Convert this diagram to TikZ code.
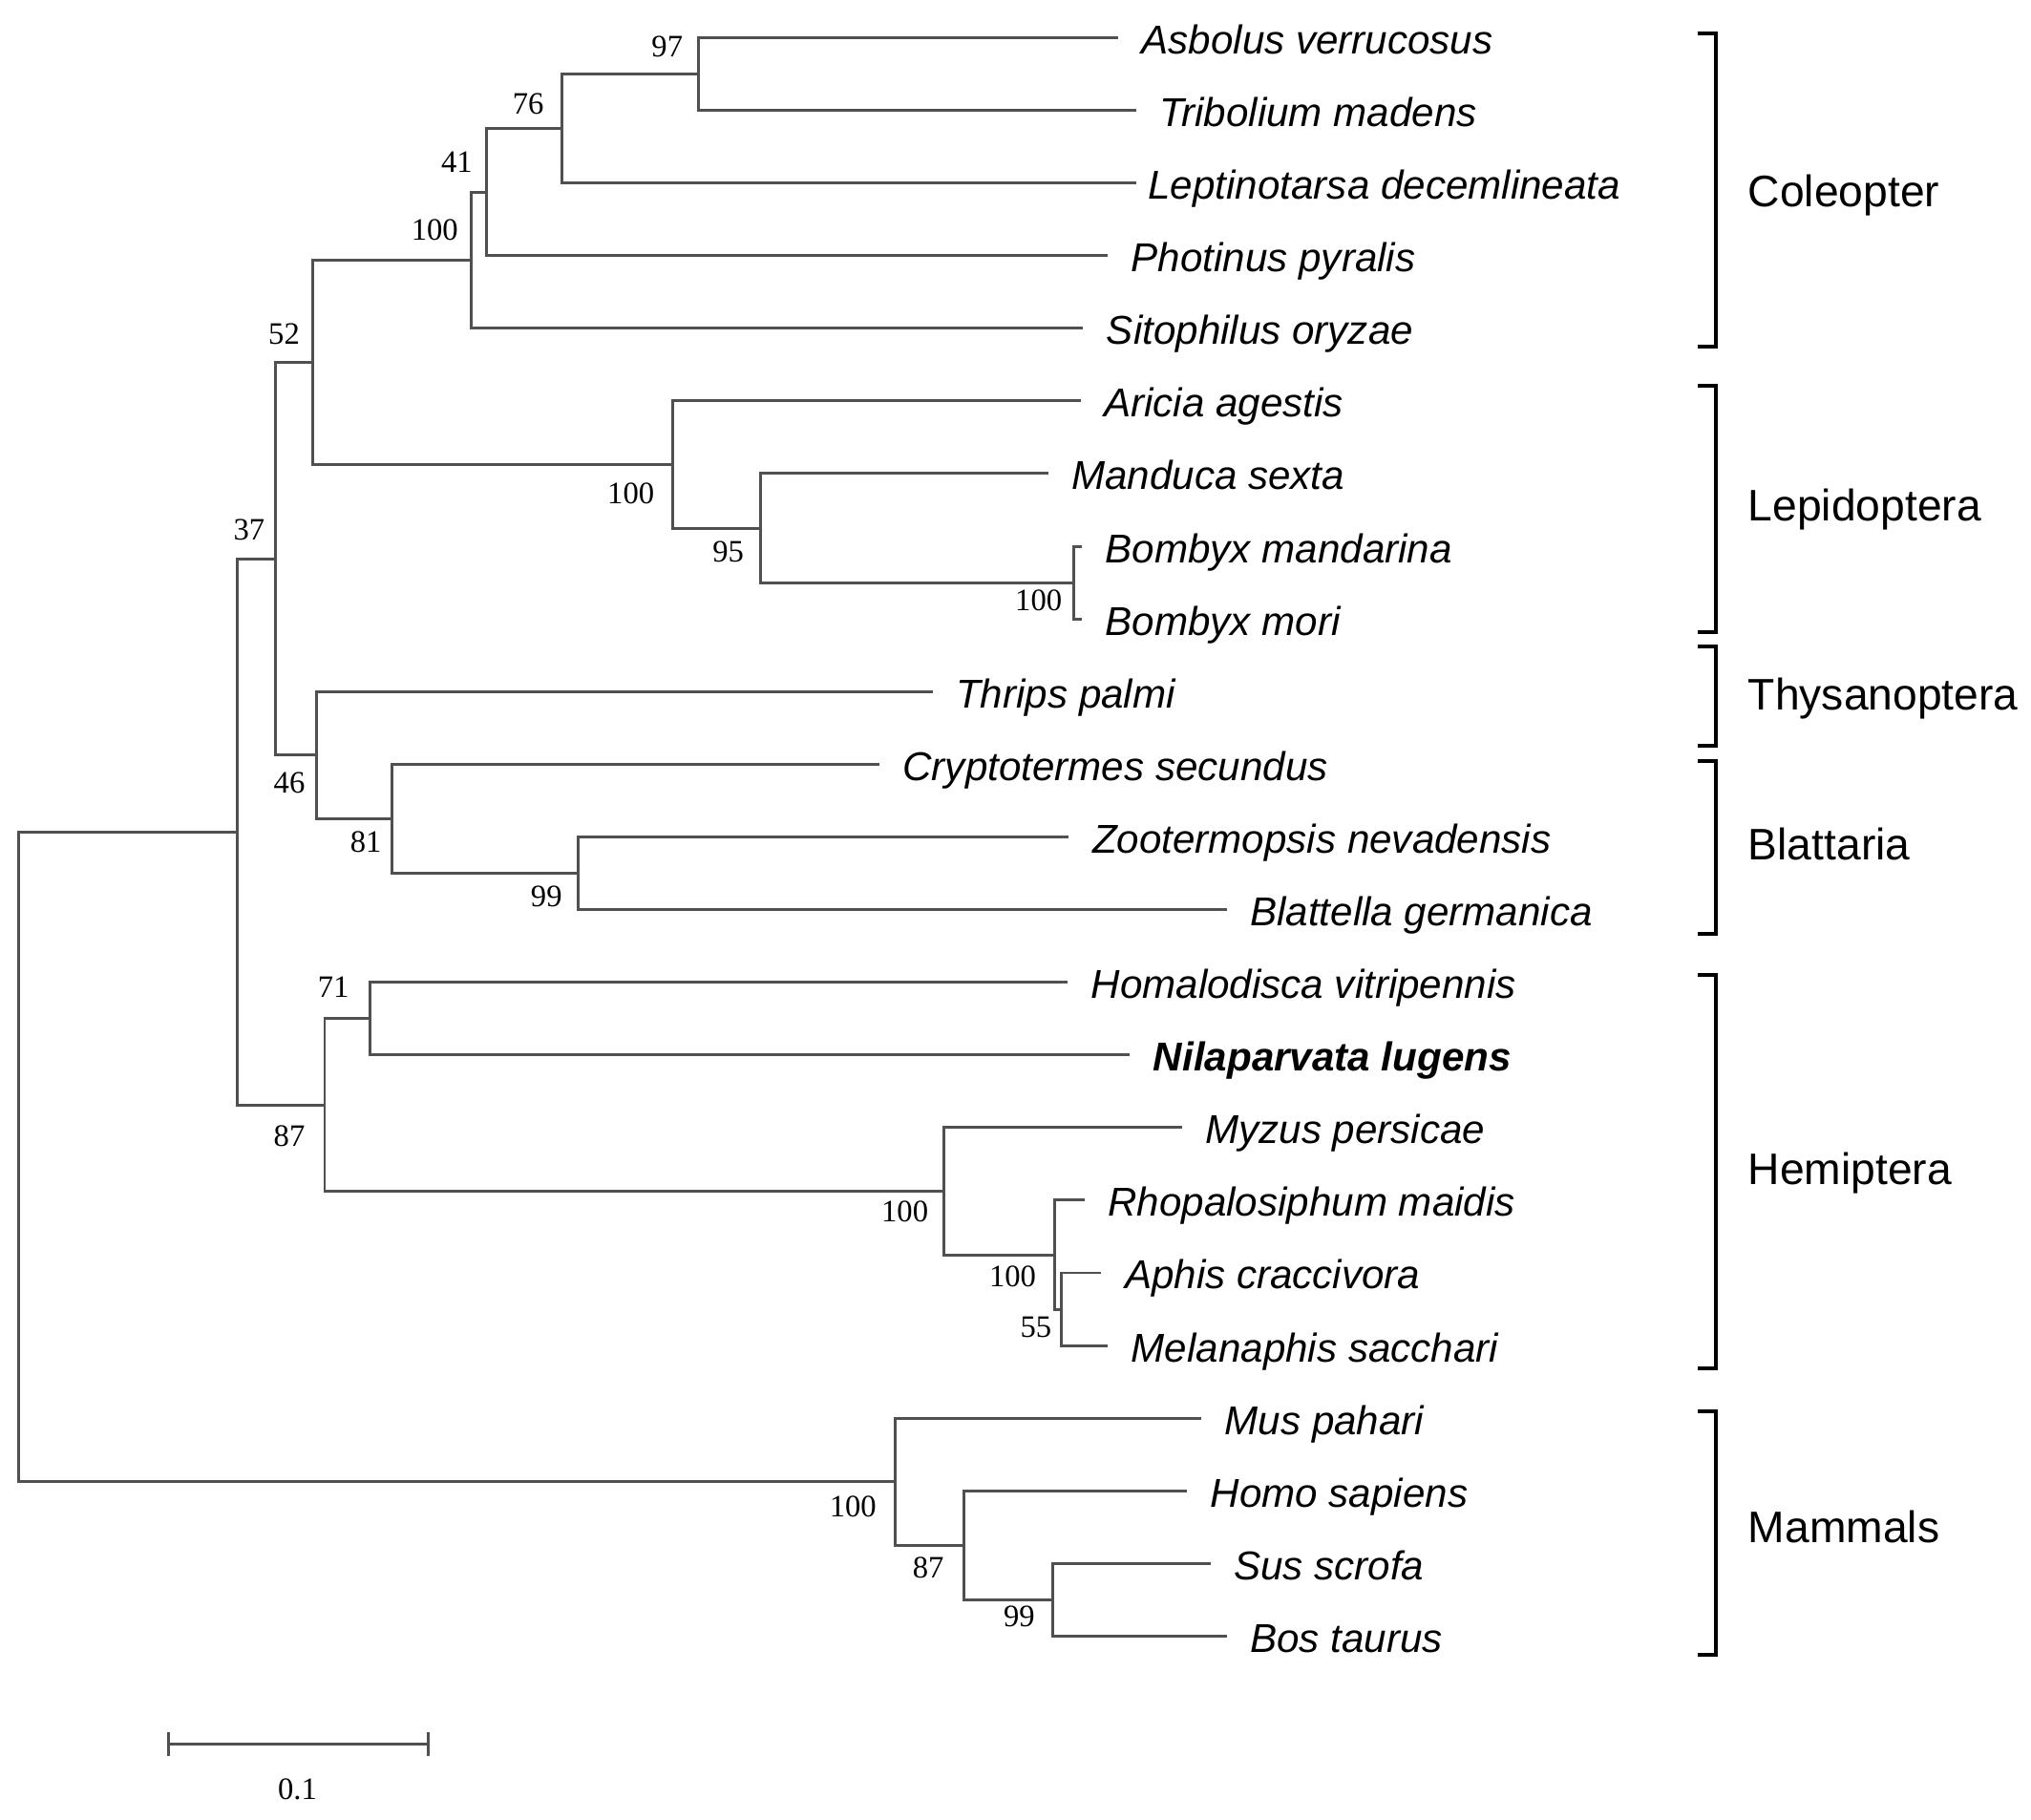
\documentclass[tikz,border=0pt]{standalone}
\usepackage{fontspec}
\setmainfont{Liberation Serif}
\newfontfamily\arialfont{Liberation Sans}
\definecolor{treegray}{RGB}{80,80,80}
\begin{document}
\begin{tikzpicture}[x=1pt,y=-1pt,
  br/.style={line width=2.2pt, draw=treegray, line cap=rect},
  leaf/.style={anchor=base west, inner sep=0pt, font=\arialfont\itshape\fontsize{31}{36}\selectfont},
  bs/.style={anchor=east, inner sep=0pt, font=\fontsize{24}{28}\selectfont},
  grp/.style={anchor=base west, inner sep=0pt, font=\arialfont\fontsize{34}{40}\selectfont},
  brk/.style={line width=3pt, draw=black},
  sb/.style={line width=2.2pt, draw=treegray}]
\useasboundingbox (0,0) rectangle (1564,1400.8);
% internal nodes
\coordinate (root) at (14,890.8);
\coordinate (nIns) at (183,640.5);
\coordinate (nMam) at (689,1141);
\coordinate (n37) at (212,430.3);
\coordinate (nHem) at (250,850.8);
\coordinate (n52) at (241,279);
\coordinate (n46) at (244,581.5);
\coordinate (nCol) at (363,200.35);
\coordinate (nLep) at (518,357.7);
\coordinate (n41) at (375,147.9);
\coordinate (n76) at (433,98.94);
\coordinate (n97) at (538,56.98);
\coordinate (n95) at (586,406.7);
\coordinate (nBom) at (827,448.6);
\coordinate (n81) at (302,630.5);
\coordinate (n99b) at (445,672.4);
\coordinate (n71) at (285,784.3);
\coordinate (nMyz) at (727,917.2);
\coordinate (nAph) at (812,966.2);
\coordinate (n55) at (817,1008.1);
\coordinate (n87m) at (742,1190);
\coordinate (n99m) at (811,1231.9);
% leaves
\coordinate (L1) at (860,29.0);
\coordinate (L2) at (874,84.95);
\coordinate (L3) at (874,140.9);
\coordinate (L4) at (852,196.85);
\coordinate (L5) at (833,252.8);
\coordinate (L6) at (831,308.75);
\coordinate (L7) at (806,364.7);
\coordinate (L8) at (832,420.65);
\coordinate (L9) at (832,476.6);
\coordinate (L10) at (717,532.55);
\coordinate (L11) at (676,588.5);
\coordinate (L12) at (822,644.45);
\coordinate (L13) at (943.5,700.4);
\coordinate (L14) at (821,756.35);
\coordinate (L15) at (869,812.3);
\coordinate (L16) at (909,868.25);
\coordinate (L17) at (834,924.2);
\coordinate (L18) at (847,980.15);
\coordinate (L19) at (852,1036.1);
\coordinate (L20) at (924,1092.05);
\coordinate (L21) at (913,1148.0);
\coordinate (L22) at (931,1203.95);
\coordinate (L23) at (943.5,1259.9);
% branches
\foreach \p/\c in {root/nIns, root/nMam, nIns/n37, nIns/nHem, n37/n52, n37/n46,
  n52/nCol, n52/nLep, nCol/n41, nCol/L5, n41/n76, n41/L4, n76/n97, n76/L3,
  n97/L1, n97/L2, nLep/L6, nLep/n95, n95/L7, n95/nBom, nBom/L8, nBom/L9,
  n46/L10, n46/n81, n81/L11, n81/n99b, n99b/L12, n99b/L13,
  nHem/n71, nHem/nMyz, n71/L14, n71/L15, nMyz/L16, nMyz/nAph,
  nAph/L17, nAph/n55, n55/L18, n55/L19,
  nMam/L20, nMam/n87m, n87m/L21, n87m/n99m, n99m/L22, n99m/L23}
  \draw[br] (\p) |- (\c);
% leaf labels
\node[leaf] (T1) at ([shift={(19,12.5)}]L1) {Asbolus verrucosus};
\node[leaf] (T2) at ([shift={(19,12.5)}]L2) {Tribolium madens};
\node[leaf] (T3) at ([shift={(10,12.5)}]L3) {Leptinotarsa decemlineata};
\node[leaf] (T4) at ([shift={(19,12.5)}]L4) {Photinus pyralis};
\node[leaf] (T5) at ([shift={(19,12.5)}]L5) {Sitophilus oryzae};
\node[leaf] (T6) at ([shift={(19,12.5)}]L6) {Aricia agestis};
\node[leaf] (T7) at ([shift={(19,12.5)}]L7) {Manduca sexta};
\node[leaf] (T8) at ([shift={(19,12.5)}]L8) {Bombyx mandarina};
\node[leaf] (T9) at ([shift={(19,12.5)}]L9) {Bombyx mori};
\node[leaf] (T10) at ([shift={(19,12.5)}]L10) {Thrips palmi};
\node[leaf] (T11) at ([shift={(19,12.5)}]L11) {Cryptotermes secundus};
\node[leaf] (T12) at ([shift={(19,12.5)}]L12) {Zootermopsis nevadensis};
\node[leaf] (T13) at ([shift={(19,12.5)}]L13) {Blattella germanica};
\node[leaf] (T14) at ([shift={(19,12.5)}]L14) {Homalodisca vitripennis};
\node[leaf, font=\arialfont\bfseries\itshape\fontsize{31}{36}\selectfont] (T15) at ([shift={(19,12.5)}]L15) {Nilaparvata lugens};
\node[leaf] (T16) at ([shift={(19,12.5)}]L16) {Myzus persicae};
\node[leaf] (T17) at ([shift={(19,12.5)}]L17) {Rhopalosiphum maidis};
\node[leaf] (T18) at ([shift={(19,12.5)}]L18) {Aphis craccivora};
\node[leaf] (T19) at ([shift={(19,12.5)}]L19) {Melanaphis sacchari};
\node[leaf] (T20) at ([shift={(19,12.5)}]L20) {Mus pahari};
\node[leaf] (T21) at ([shift={(19,12.5)}]L21) {Homo sapiens};
\node[leaf] (T22) at ([shift={(19,12.5)}]L22) {Sus scrofa};
\node[leaf] (T23) at ([shift={(19,12.5)}]L23) {Bos taurus};
% bootstrap values
\node[bs] (b97) at ([shift={(-12,-21)}]n97) {97};
\node[bs] (b76) at ([shift={(-14,-19)}]n76) {76};
\node[bs] (b41) at ([shift={(-11,-23)}]n41) {41};
\node[bs] (bCol) at ([shift={(-10,-23)}]nCol) {100};
\node[bs] (b52) at ([shift={(-10,-22)}]n52) {52};
\node[bs] (b37) at ([shift={(-8,-22)}]n37) {37};
\node[bs] (bLep) at ([shift={(-14,22)}]nLep) {100};
\node[bs] (b95) at ([shift={(-13,18)}]n95) {95};
\node[bs] (bBom) at ([shift={(-9,14)}]nBom) {100};
\node[bs] (b46) at ([shift={(-9,21)}]n46) {46};
\node[bs] (b81) at ([shift={(-8,18)}]n81) {81};
\node[bs] (b99b) at ([shift={(-12,18)}]n99b) {99};
\node[bs] (b71) at ([shift={(-16,-24)}]n71) {71};
\node[bs] (bHem) at ([shift={(-15,24)}]nHem) {87};
\node[bs] (bMyz) at ([shift={(-12,16)}]nMyz) {100};
\node[bs] (bAph) at ([shift={(-14,17)}]nAph) {100};
\node[bs] (b55) at ([shift={(-7,14)}]n55) {55};
\node[bs] (bMam) at ([shift={(-14,19)}]nMam) {100};
\node[bs] (b87m) at ([shift={(-15,17)}]n87m) {87};
\node[bs] (b99m) at ([shift={(-14,13)}]n99m) {99};
% group brackets
\draw[brk] (1307,26) -- (1321,26) -- (1321,267) -- (1307,267);
\draw[brk] (1307,297) -- (1321,297) -- (1321,487) -- (1307,487);
\draw[brk] (1307,498) -- (1321,498) -- (1321,574) -- (1307,574);
\draw[brk] (1307,586) -- (1321,586) -- (1321,719) -- (1307,719);
\draw[brk] (1307,751) -- (1321,751) -- (1321,1054) -- (1307,1054);
\draw[brk] (1307,1087) -- (1321,1087) -- (1321,1274) -- (1307,1274);
\node[grp] (g1) at (1346,159) {Coleopter};
\node[grp] (g2) at (1346,401) {Lepidoptera};
\node[grp] (g3) at (1346,547) {Thysanoptera};
\node[grp] (g4) at (1346,662) {Blattaria};
\node[grp] (g5) at (1346,912) {Hemiptera};
\node[grp] (g6) at (1346,1188) {Mammals};
% scale bar
\coordinate (s1) at (130,1343);
\coordinate (s2) at (330,1343);
\draw[sb] (s1) -- (s2);
\draw[sb] ([yshift=-9pt]s1) -- ([yshift=9pt]s1);
\draw[sb] ([yshift=-9pt]s2) -- ([yshift=9pt]s2);
\node[bs, anchor=center] (sbl) at (229,1378) {0.1};
\end{tikzpicture}
\end{document}
